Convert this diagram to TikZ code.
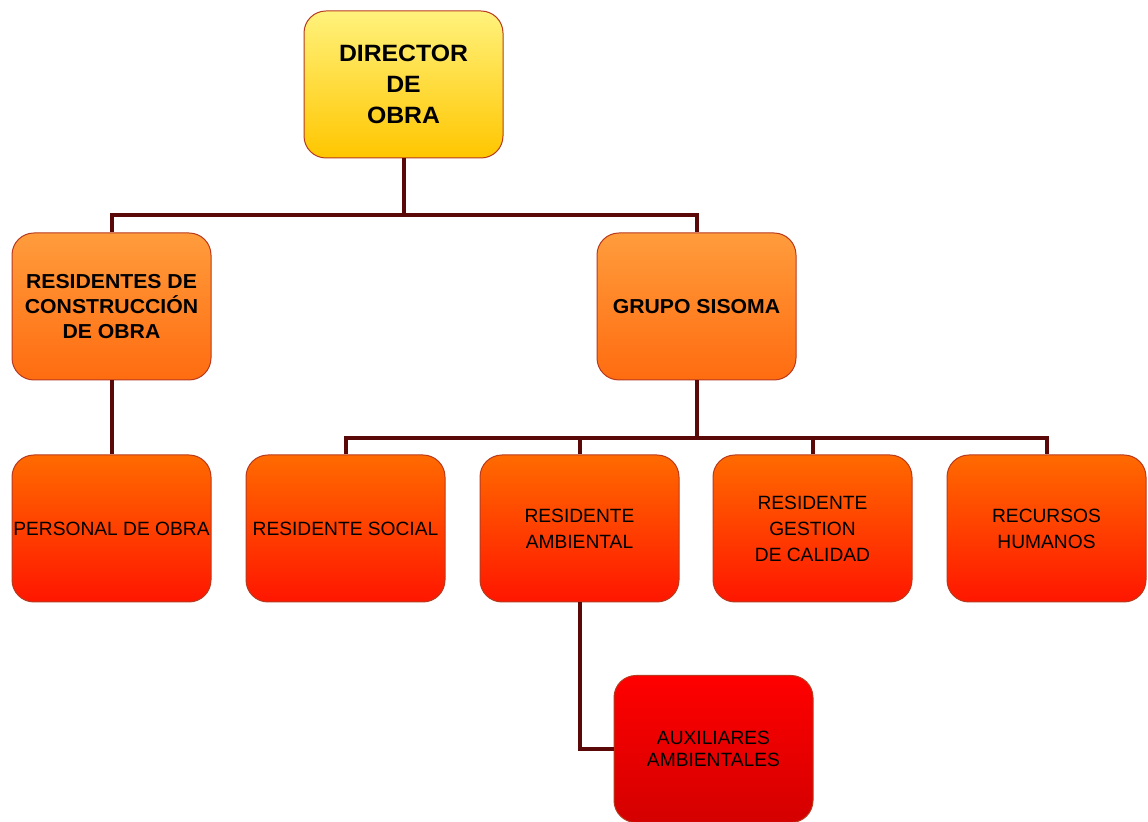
\documentclass[tikz,border=0pt]{standalone}
\usepackage{fontspec}
\setmainfont{Liberation Sans}
\newfontfamily\widesans{Liberation Sans}[FakeStretch=1.05]
\definecolor{linkc}{HTML}{5A0808}
\definecolor{edgec}{HTML}{B83A1E}
\definecolor{dirtop}{HTML}{FFF27C}
\definecolor{dirbot}{HTML}{FFC600}
\definecolor{midtop}{HTML}{FF9C3C}
\definecolor{midbot}{HTML}{FF6C10}
\definecolor{lowtop}{HTML}{FF6A00}
\definecolor{lowbot}{HTML}{FF1600}
\definecolor{auxtop}{HTML}{FF0000}
\definecolor{auxbot}{HTML}{D40000}
\begin{document}
\begin{tikzpicture}[x=0.5pt,y=-0.5pt,
  box/.style={draw=edgec, line width=0.5pt, rounded corners=11pt,
    minimum width=99.5pt, minimum height=73.5pt, inner sep=0pt,
    align=center, text=black},
  toplvl/.style={box, top color=dirtop, bottom color=dirbot,
    font=\widesans\fontsize{11.8}{15.5}\selectfont\bfseries},
  midlvl/.style={box, top color=midtop, bottom color=midbot,
    font=\widesans\fontsize{10.1}{12.3}\selectfont\bfseries},
  lowlvl/.style={box, top color=lowtop, bottom color=lowbot,
    font=\fontsize{9.6}{13}\selectfont},
  auxlvl/.style={box, top color=auxtop, bottom color=auxbot,
    font=\fontsize{9.6}{11.2}\selectfont},
  link/.style={draw=linkc, line width=2pt}]
\useasboundingbox (0,0) rectangle (1148,822);

% boxes
\node[toplvl] (dir) at (403.5,84.5) {DIRECTOR\\DE\\OBRA};
\node[midlvl] (rco) at (111.5,306.5) {RESIDENTES DE\\CONSTRUCCIÓN\\DE OBRA};
\node[midlvl] (gsi) at (696.5,306.5) {GRUPO SISOMA};
\node[lowlvl] (per) at (111.5,528.5) {PERSONAL DE OBRA};
\node[lowlvl] (soc) at (345.5,528.5) {RESIDENTE SOCIAL};
\node[lowlvl] (amb) at (579.5,528.5) {RESIDENTE\\AMBIENTAL};
\node[lowlvl] (cal) at (812.5,528.5) {RESIDENTE\\GESTION\\DE CALIDAD};
\node[lowlvl] (rhu) at (1046.5,528.5) {RECURSOS\\HUMANOS};
\node[auxlvl] (aux) at (713.5,749) {AUXILIARES\\AMBIENTALES};

% bus lines
\coordinate (busA) at (403.5,215);
\coordinate (busB) at (696.5,438);

\draw[link] (dir.south) -- (busA);
\draw[link] (rco.north) -- (rco.north |- busA) -- (gsi.north |- busA) -- (gsi.north);
\draw[link] (rco.south) -- (per.north);
\draw[link] (gsi.south) -- (busB);
\draw[link] (soc.north) -- (soc.north |- busB) -- (rhu.north |- busB) -- (rhu.north);
\draw[link] (amb.north) -- (amb.north |- busB);
\draw[link] (cal.north) -- (cal.north |- busB);
\draw[link] (amb.south) |- (aux.west);
\end{tikzpicture}
\end{document}
